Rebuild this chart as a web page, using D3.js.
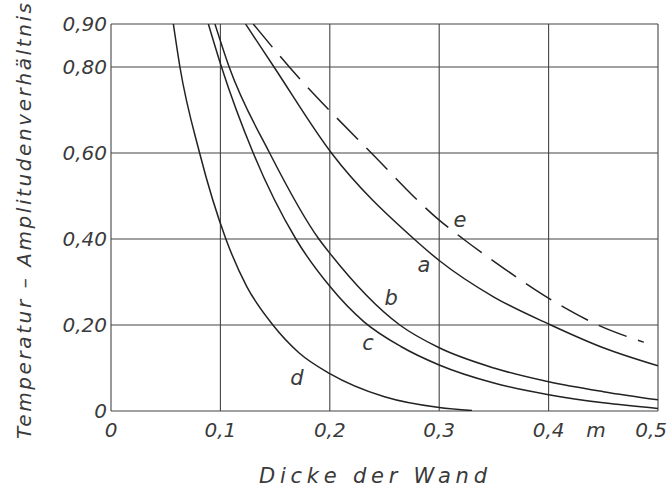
<!DOCTYPE html>
<html>
<head>
<meta charset="utf-8">
<script src="https://cdn.jsdelivr.net/npm/d3@7"></script>
<style>
  body { margin: 0; background: #fff; }
  text { font-family: "DejaVu Sans", sans-serif; font-style: italic; fill: #3a3a3a; }
</style>
</head>
<body>
<div id="chart"></div>
<script>
// wall thickness (m) vs. temperature amplitude ratio
var curveA = [[0.123, 0.90], [0.149, 0.80], [0.2015, 0.60], [0.277, 0.40], [0.3, 0.35], [0.35, 0.265], [0.402, 0.20], [0.45, 0.147], [0.5, 0.105]];
var curveB = [[0.095, 0.90], [0.108, 0.80], [0.145, 0.60], [0.19, 0.40], [0.2, 0.367], [0.264, 0.20], [0.3, 0.147], [0.35, 0.10], [0.4, 0.068], [0.45, 0.045], [0.5, 0.026]];
var curveC = [[0.089, 0.90], [0.101, 0.80], [0.130, 0.60], [0.169, 0.40], [0.2, 0.29], [0.231, 0.208], [0.265, 0.150], [0.3, 0.107], [0.35, 0.065], [0.4, 0.038], [0.45, 0.019], [0.5, 0.006]];
var curveD = [[0.057, 0.90], [0.063, 0.80], [0.081, 0.60], [0.105, 0.40], [0.124, 0.29], [0.148, 0.20], [0.172, 0.135], [0.2, 0.087], [0.25, 0.033], [0.3, 0.008], [0.33, 0.001]];
var curveE = [[0.130, 0.90], [0.163, 0.80], [0.238, 0.60], [0.3, 0.444], [0.322, 0.40], [0.36, 0.33], [0.408, 0.25], [0.445, 0.20], [0.487, 0.16]];

var xTicks = [0, 0.1, 0.2, 0.3, 0.4, 0.5];
var xTickLabels = ["0", "0,1", "0,2", "0,3", "0,4", "0,5"];
var yTicks = [0, 0.2, 0.4, 0.6, 0.8, 0.9];
var yTickLabels = ["0", "0,20", "0,40", "0,60", "0,80", "0,90"];

var curveNames = ["a", "b", "c", "d", "e"];
// where each letter sits: [x value, y value of baseline]
var labelAt = [[0.286, 0.323], [0.256, 0.247], [0.235, 0.142], [0.170, 0.060], [0.319, 0.428]];

var width = 669, height = 488;

var x = d3.scaleLinear().domain([0, 0.5]).range([111, 658]);
var y = d3.scaleLinear().domain([0, 0.9]).range([411, 24]);

var svg = d3.select("#chart").append("svg")
    .attr("width", width)
    .attr("height", height);

svg.append("clipPath").attr("id", "plot")
  .append("rect")
    .attr("x", x(0)).attr("y", y(0.9))
    .attr("width", x(0.5) - x(0)).attr("height", y(0) - y(0.9));

// grid
var grid = svg.append("g").attr("stroke", "#444").attr("stroke-width", 1.1);
grid.selectAll(".vg").data(xTicks).enter().append("line")
    .attr("x1", function (d) { return x(d); })
    .attr("x2", function (d) { return x(d); })
    .attr("y1", y(0.9)).attr("y2", y(0));
grid.selectAll(".hg").data(yTicks).enter().append("line")
    .attr("x1", x(0)).attr("x2", x(0.5))
    .attr("y1", function (d) { return y(d); })
    .attr("y2", function (d) { return y(d); });

// tick labels
svg.append("g").selectAll("text").data(yTicks).enter().append("text")
    .attr("x", 107)
    .attr("y", function (d) { return y(d); })
    .attr("dy", "0.36em")
    .attr("text-anchor", "end")
    .attr("font-size", 20)
    .text(function (d, i) { return yTickLabels[i]; });

svg.append("g").selectAll("text").data(xTicks).enter().append("text")
    .attr("x", function (d, i) { return i === xTicks.length - 1 ? 667 : x(d); })
    .attr("y", 437)
    .attr("text-anchor", function (d, i) { return i === xTicks.length - 1 ? "end" : "middle"; })
    .attr("font-size", 20)
    .text(function (d, i) { return xTickLabels[i]; });

svg.append("text")
    .attr("x", 596).attr("y", 437)
    .attr("text-anchor", "middle")
    .attr("font-size", 20)
    .text("m");

// axis titles
svg.append("text")
    .attr("x", 373).attr("y", 483)
    .attr("text-anchor", "middle")
    .attr("font-size", 21)
    .attr("textLength", 228)
    .attr("lengthAdjust", "spacing")
    .text("Dicke der Wand");

svg.append("text")
    .attr("transform", "translate(31,221) rotate(-90)")
    .attr("text-anchor", "middle")
    .attr("font-size", 20)
    .attr("textLength", 436)
    .attr("lengthAdjust", "spacing")
    .text("Temperatur – Amplitudenverhältnis");

// curves
var line = d3.line()
    .x(function (d) { return x(d[0]); })
    .y(function (d) { return y(d[1]); })
    .curve(d3.curveMonotoneX);

var curves = [curveA, curveB, curveC, curveD, curveE];
svg.append("g").attr("clip-path", "url(#plot)")
  .selectAll("path").data(curves).enter().append("path")
    .attr("d", line)
    .attr("fill", "none")
    .attr("stroke", "#222")
    .attr("stroke-width", 1.5)
    .attr("stroke-dasharray", function (d, i) { return curveNames[i] === "e" ? "30,12" : null; });

svg.append("g").selectAll("text").data(curveNames).enter().append("text")
    .attr("x", function (d, i) { return x(labelAt[i][0]); })
    .attr("y", function (d, i) { return y(labelAt[i][1]); })
    .attr("text-anchor", "middle")
    .attr("font-size", 21)
    .text(function (d) { return d; });
</script>
</body>
</html>
